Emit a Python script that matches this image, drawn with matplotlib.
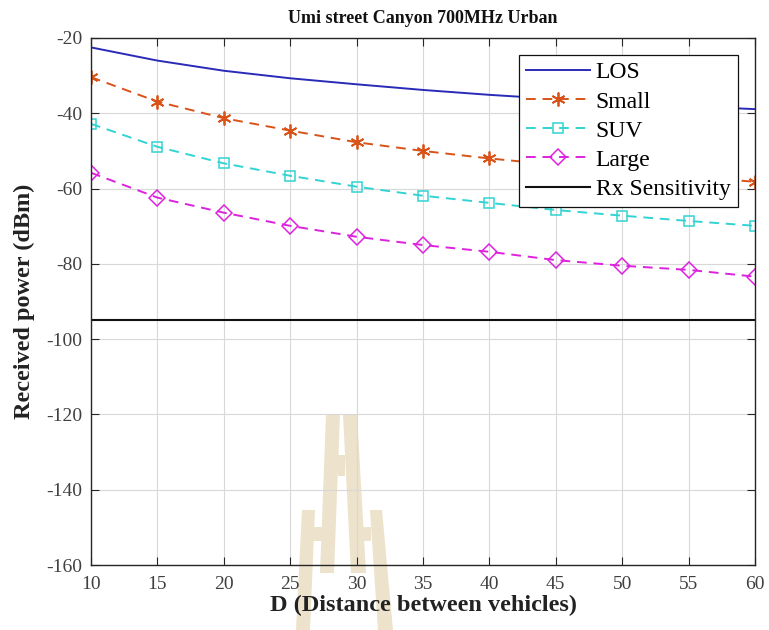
import matplotlib
matplotlib.use('Agg')
import matplotlib.pyplot as plt
from matplotlib.patches import Polygon

# distance between vehicles (m)
distance = [10, 15, 20, 25, 30, 35, 40, 45, 50, 55, 60]

# received power (dBm)
los   = [-22.5, -26.0, -28.7, -30.7, -32.3, -33.8, -35.1, -36.2, -37.2, -38.1, -38.9]
small = [-30.4, -36.9, -41.3, -44.6, -47.7, -50.0, -52.0, -53.7, -55.3, -56.8, -58.2]
suv   = [-42.8, -48.9, -53.3, -56.6, -59.5, -61.9, -63.8, -65.7, -67.2, -68.6, -69.9]
large = [-55.8, -62.4, -66.4, -69.9, -72.8, -75.0, -76.8, -79.0, -80.5, -81.6, -83.4]
rx_sensitivity = -95

xticks = list(range(10, 61, 5))
yticks = list(range(-160, -19, 20))

plt.rcParams['font.family'] = 'Liberation Serif'
plt.rcParams['axes.unicode_minus'] = False

W, H = 769, 630
fig = plt.figure(figsize=(W / 100, H / 100), dpi=100)
ax = fig.add_axes([91 / W, 1 - 565 / H, (755 - 91) / W, (565 - 38) / H])
ax.set_facecolor('none')


# watermark logo behind the axes (image pixel coords)
def px(pts):
    return [(x / W, 1 - y / H) for x, y in pts]

logo = [
    [(302, 510), (315, 510), (310, 630), (296, 630)],
    [(313, 527), (326, 527), (326, 541), (313, 541)],
    [(326, 414), (340, 414), (334, 573), (320, 573)],
    [(338, 455), (345, 455), (345, 476), (338, 476)],
    [(343, 414), (357, 414), (366, 573), (351, 573)],
    [(357, 527), (371, 527), (371, 541), (357, 541)],
    [(370, 510), (382, 510), (393, 630), (378, 630)],
]
for poly in logo:
    fig.patches.append(Polygon(px(poly), closed=True, transform=fig.transFigure,
                               facecolor='#ede2cb', edgecolor='none', zorder=-1))

dash = (5, 3.5)
ax.plot(distance, los, color='#2a2ab8', lw=1.4, label='LOS')
ax.plot(distance, small, color='#d95319', lw=1.4, dashes=dash,
        marker=(6, 2, 0), ms=10, mew=1.3, label='Small')
ax.plot(distance, suv, color='#33d3d3', lw=1.4, dashes=dash,
        marker='s', ms=7.5, mfc='none', mew=1.1, label='SUV')
ax.plot(distance, large, color='#dd22dd', lw=1.4, dashes=dash,
        marker='D', ms=8, mfc='none', mew=1.1, label='Large')
ax.axhline(rx_sensitivity, color='#111111', lw=1.5, label='Rx Sensitivity')

ax.set_xlim(10, 60)
ax.set_ylim(-160, -20)
ax.set_xticks(xticks)
ax.set_yticks(yticks)
ax.tick_params(direction='in', length=6, width=0.8, top=True, right=True,
               labelsize=14, colors='#262626', labelcolor='#404040', pad=6)
ax.tick_params(axis='x', pad=8)
ax.grid(True, color='#d8d8d8', lw=0.8)
ax.set_axisbelow(True)
for s in ax.spines.values():
    s.set_color('#262626')
    s.set_linewidth(1.0)

ax.set_title('Umi street Canyon 700MHz Urban', fontsize=13, fontweight='bold',
             color='#111111', pad=11)
ax.set_xlabel('D (Distance between vehicles)', fontsize=17.5, fontweight='bold',
              color='#222222', labelpad=1)
ax.set_ylabel('Received power (dBm)', fontsize=17.5, fontweight='bold',
              color='#222222', labelpad=8)

leg = ax.legend(loc='upper right', bbox_to_anchor=(0.974, 0.968), borderaxespad=0,
                fontsize=17, handlelength=2.7, handletextpad=0.25, labelspacing=0.32,
                borderpad=0.3, fancybox=False, framealpha=1, edgecolor='#111111')
leg.get_frame().set_linewidth(0.9)

fig.savefig('out.png', dpi=100)
